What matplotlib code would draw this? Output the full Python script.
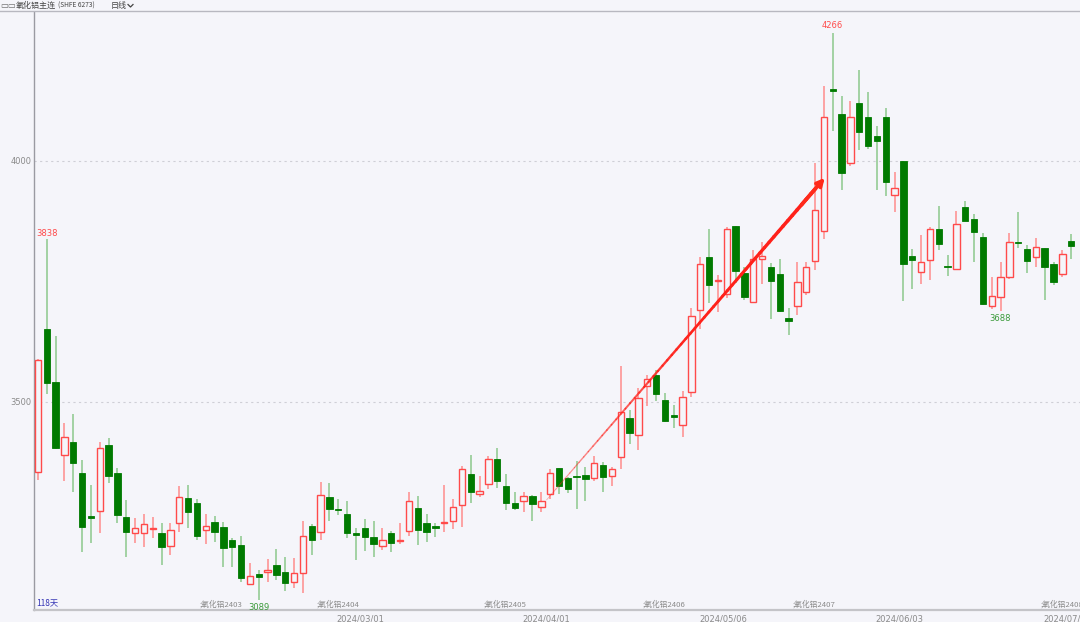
import numpy as np
import matplotlib
matplotlib.use("Agg")
import matplotlib.pyplot as plt
from matplotlib.collections import LineCollection
from matplotlib.lines import Line2D

# daily OHLC, alumina main contract
opens = [3355, 3651, 3542, 3391, 3416, 3353, 3262, 3274, 3411, 3352,
         3261, 3229, 3228, 3236, 3229, 3201, 3250, 3300, 3291, 3235,
         3252, 3241, 3214, 3203, 3122, 3143, 3147, 3161, 3148, 3127,
         3145, 3243, 3230, 3303, 3279, 3268, 3228, 3239, 3219, 3201,
         3228, 3211, 3233, 3281, 3248, 3243, 3248, 3254, 3286, 3350,
         3309, 3330, 3381, 3326, 3291, 3295, 3305, 3283, 3309, 3363,
         3343, 3346, 3348, 3343, 3369, 3347, 3385, 3466, 3432, 3533,
         3555, 3504, 3473, 3452, 3520, 3690, 3800, 3750, 3725, 3865,
         3767, 3708, 3797, 3779, 3766, 3674, 3699, 3729, 3793, 3855,
         4148, 4098, 3995, 4121, 4091, 4052, 4092, 3930, 3999, 3802,
         3769, 3795, 3859, 3783, 3775, 3905, 3879, 3842, 3699, 3717,
         3759, 3831, 3817, 3800, 3820, 3787, 3765, 3834]
highs = [3590, 3838, 3636, 3457, 3476, 3380, 3327, 3416, 3425, 3364,
         3297, 3259, 3268, 3261, 3248, 3250, 3326, 3327, 3298, 3268,
         3264, 3251, 3218, 3221, 3167, 3151, 3174, 3194, 3178, 3176,
         3253, 3247, 3333, 3331, 3299, 3295, 3238, 3257, 3253, 3238,
         3232, 3248, 3314, 3306, 3268, 3248, 3328, 3298, 3368, 3391,
         3347, 3387, 3405, 3350, 3313, 3313, 3307, 3314, 3362, 3363,
         3345, 3378, 3366, 3388, 3376, 3366, 3575, 3483, 3530, 3555,
         3566, 3518, 3494, 3523, 3694, 3800, 3858, 3764, 3864, 3865,
         3780, 3815, 3831, 3789, 3797, 3694, 3790, 3790, 3995, 4156,
         4266, 4134, 4125, 4189, 4144, 4073, 4109, 3978, 3999, 3817,
         3847, 3864, 3907, 3804, 3897, 3917, 3889, 3851, 3759, 3790,
         3851, 3895, 3826, 3840, 3820, 3791, 3815, 3848]
lows = [3338, 3517, 3402, 3336, 3314, 3188, 3207, 3228, 3331, 3248,
        3179, 3208, 3200, 3217, 3161, 3183, 3231, 3239, 3214, 3205,
        3209, 3158, 3158, 3127, 3120, 3089, 3127, 3131, 3107, 3115,
        3103, 3183, 3214, 3253, 3266, 3217, 3172, 3190, 3179, 3193,
        3188, 3205, 3221, 3203, 3209, 3219, 3230, 3237, 3241, 3290,
        3302, 3320, 3322, 3276, 3275, 3271, 3254, 3271, 3299, 3309,
        3311, 3277, 3295, 3337, 3314, 3326, 3362, 3413, 3400, 3492,
        3503, 3459, 3447, 3428, 3511, 3652, 3705, 3687, 3715, 3746,
        3712, 3705, 3745, 3672, 3687, 3639, 3681, 3722, 3774, 3838,
        4063, 3939, 3990, 4023, 4024, 3940, 3928, 3894, 3710, 3735,
        3744, 3753, 3815, 3762, 3774, 3876, 3790, 3701, 3692, 3688,
        3755, 3819, 3767, 3781, 3712, 3743, 3760, 3797]
closes = [3588, 3540, 3404, 3428, 3373, 3240, 3260, 3404, 3346, 3266,
          3230, 3238, 3247, 3239, 3200, 3234, 3302, 3271, 3221, 3243,
          3231, 3198, 3200, 3134, 3140, 3136, 3151, 3142, 3124, 3145,
          3223, 3214, 3308, 3279, 3275, 3228, 3224, 3219, 3205, 3214,
          3208, 3214, 3295, 3234, 3231, 3239, 3251, 3283, 3362, 3314,
          3315, 3381, 3337, 3291, 3281, 3304, 3288, 3295, 3353, 3326,
          3320, 3345, 3340, 3373, 3344, 3360, 3480, 3436, 3509, 3547,
          3516, 3461, 3469, 3511, 3679, 3786, 3742, 3753, 3858, 3772,
          3717, 3797, 3803, 3750, 3689, 3669, 3748, 3779, 3898, 4092,
          4146, 3976, 4091, 4060, 4030, 4042, 3956, 3943, 3786, 3795,
          3790, 3859, 3828, 3779, 3869, 3876, 3852, 3703, 3719, 3759,
          3831, 3829, 3793, 3822, 3781, 3748, 3806, 3824]

date_pos = [36.5, 57.6, 77.6, 97.6, 116.6]
date_labels = ["2024/03/01", "2024/04/01", "2024/05/06", "2024/06/03", "2024/07/01"]
roll_pos = [18.3, 31.6, 50.5, 68.5, 85.5, 113.5]
roll_labels = [";氧化铝2403", ";氧化铝2404", ";氧化铝2405", ";氧化铝2406", ";氧化铝2407", ";氧化铝2408"]
arrow_start = (57.6, 3297)
arrow_end = (89.1, 3965)

bg = "#f5f5fa"
red = "#ff4a4a"
red_wick = "#ff8c8c"
green = "#007a00"
green_wick = "#8cc88c"
gray = "#8a8a8a"
cjk = ["Noto Sans CJK SC", "DejaVu Sans"]

o = np.array(opens, float)
h = np.array(highs, float)
l = np.array(lows, float)
c = np.array(closes, float)
x = np.arange(len(o))
up = c >= o

fig = plt.figure(figsize=(10.8, 6.22), dpi=100, facecolor=bg)
ax = fig.add_axes([34 / 1080, 1 - 610 / 622, 1 - 34 / 1080, (610 - 11.5) / 622])
ax.set_facecolor(bg)

# wicks first, bodies on top hide them
ax.vlines(x, l, h, colors=np.where(up, red_wick, green_wick), lw=1.1, zorder=2)
bottom = np.minimum(o, c)
height = np.maximum(np.abs(c - o), 2.5)
ax.bar(x[up], height[up], bottom=bottom[up], width=0.72, color=bg,
       edgecolor=red, linewidth=1.0, zorder=3)
ax.bar(x[~up], height[~up], bottom=bottom[~up], width=0.72, color=green,
       edgecolor=green, linewidth=0.6, zorder=3)

ax.set_xlim(-0.45, 118.0)
ax.set_ylim(3068.5, 4310)

ax.set_yticks([3500, 4000], ["3500", "4000"])
ax.grid(axis="y", color="#cfcfd6", linestyle=(0, (2, 3)), lw=0.8)
ax.set_xticks(date_pos, date_labels)
ax.tick_params(axis="y", length=0, labelsize=6, colors=gray, pad=2)
ax.tick_params(axis="x", length=0, labelsize=6, colors=gray, pad=3)

for side in ["top", "right"]:
    ax.spines[side].set_visible(False)
ax.spines["left"].set_color("#9a9aa2")
ax.spines["left"].set_linewidth(1.0)
ax.spines["bottom"].set_color("#c4c4c8")
ax.spines["bottom"].set_linewidth(1.6)

# extreme value labels
i_max = int(np.argmax(h))
i_min = int(np.argmin(l))
i_hi1 = int(np.argmax(h[:20]))
i_lo2 = 100 + int(np.argmin(l[100:]))
ax.text(i_max, h[i_max] + 6, f"{h[i_max]:.0f}", color=red, fontsize=6, ha="center", va="bottom")
ax.text(i_hi1, h[i_hi1] + 2, f"{h[i_hi1]:.0f}", color=red, fontsize=6, ha="center", va="bottom")
ax.text(i_min, l[i_min] - 6, f"{l[i_min]:.0f}", color="#3a9a3a", fontsize=6, ha="center", va="top")
ax.text(i_lo2, l[i_lo2] - 6, f"{l[i_lo2]:.0f}", color="#3a9a3a", fontsize=6, ha="center", va="top")

# contract roll labels along the bottom
for p, s in zip(roll_pos, roll_labels):
    ax.text(p, 3072, s, color=gray, fontsize=5.6, ha="left", va="bottom", family=cjk, zorder=1)
ax.text(0.002, 0.004, "118天", transform=ax.transAxes, color="#3434b4", fontsize=6,
        ha="left", va="bottom", family=cjk)

# tapered trend arrow
n = 60
t = np.linspace(0, 1, n + 1)
px = arrow_start[0] + (arrow_end[0] - arrow_start[0]) * t
py = arrow_start[1] + (arrow_end[1] - arrow_start[1]) * t
segs = [[(px[k], py[k]), (px[k + 1], py[k + 1])] for k in range(n)]
alphas = np.clip(0.35 + 1.3 * t[:-1], 0, 1)
cols = [(1.0, 0.13, 0.1, a) for a in alphas]
lws = 0.6 + 2.2 * t[:-1] ** 0.8
ax.add_collection(LineCollection(segs[:-2], colors=cols[:-2], linewidths=lws[:-2], zorder=5,
                                 capstyle="round"))
ax.annotate("", xy=arrow_end, xytext=(px[-6], py[-6]),
            arrowprops=dict(arrowstyle="-|>", color="#ff2a1a", lw=2.6, mutation_scale=11,
                            shrinkA=0, shrinkB=0), zorder=6)

# header strip
fig.add_artist(Line2D([0, 1], [1 - 11.3 / 622] * 2, color="#b8b8c0", lw=1.0))
fig.text(0.5 / 1080, 1 - 6 / 622, "▭▭", fontsize=6, color="#666666", va="center", ha="left")
fig.text(16 / 1080, 1 - 5.5 / 622, "氧化铝主连", fontsize=5.8, color="#444444", va="center",
         ha="left", family=cjk)
fig.text(58 / 1080, 1 - 5.5 / 622, "(SHFE 6273)", fontsize=4.8, color="#444444", va="center",
         ha="left", family=cjk)
fig.text(111 / 1080, 1 - 5.5 / 622, "日线", fontsize=5.8, color="#444444", va="center",
         ha="left", family=cjk)
fig.add_artist(Line2D([128 / 1080, 130.5 / 1080, 133 / 1080],
                      [1 - 4.5 / 622, 1 - 7 / 622, 1 - 4.5 / 622], color="#444444", lw=0.9))

fig.savefig("out.png", dpi=100, facecolor=bg)
